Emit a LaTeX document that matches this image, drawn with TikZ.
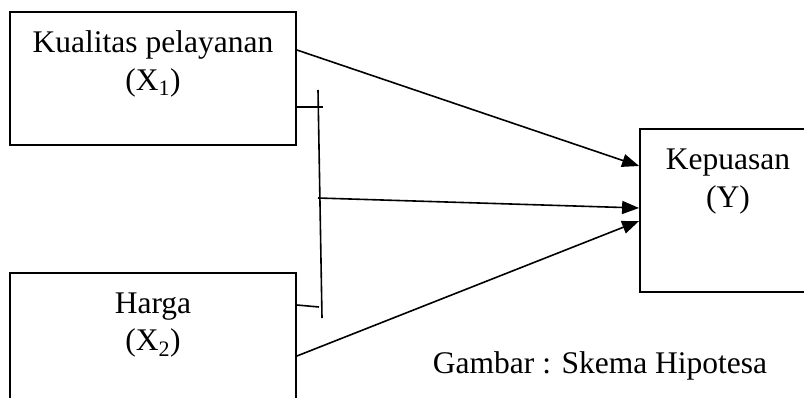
\documentclass[tikz,border=0pt]{standalone}
\usepackage{fontspec}
\setmainfont{Liberation Serif}
\usetikzlibrary{arrows.meta}
\begin{document}
\begin{tikzpicture}[x=1pt,y=-1pt,
  box/.style={draw, line width=1.8pt, rectangle, inner sep=0pt},
  lbl/.style={anchor=base, inner sep=0pt, font=\fontsize{31.5}{36}\selectfont},
  conn/.style={line width=1.6pt},
  arr/.style={conn, -{Triangle[length=17pt,width=13pt]}}]
\useasboundingbox (0,0) rectangle (804,397);
\clip (0,0) rectangle (804,397);
% boxes
\node[box, minimum width=286pt, minimum height=133pt] (x1) at (153,78.5) {};
\node[box, minimum width=286pt, minimum height=150pt] (x2) at (153,348) {};
\node[box, minimum width=180pt, minimum height=163pt] (y) at (730,210.5) {};
% texts
\node[lbl] (t1a) at (153,52) {Kualitas pelayanan};
\node[lbl] (t1b) at (153,90) {(X\textsubscript{1})};
\node[lbl] (t2a) at (153,313) {Harga};
\node[lbl] (t2b) at (153,350) {(X\textsubscript{2})};
\node[lbl] (tya) at (728,169) {Kepuasan};
\node[lbl] (tyb) at (728,207) {(Y)};
\node[lbl] (cap) at (600,373) {Gambar : Skema Hipotesa};
% junction line
\coordinate (vt) at (318,90);
\coordinate (vb) at (322,318);
\coordinate (vm) at (318,198);
\coordinate (k1) at (323,107);
\coordinate (k2) at (319,307);
\draw[conn] (vt) -- (vb);
\draw[conn] (x1.east |- k1) -- (k1);
\draw[conn] (x2.east |- 0,305) -- (k2);
% arrows
\draw[arr] (x1.east |- 0,50) -- (y.west |- 0,166);
\draw[arr] (vm) -- (y.west |- 0,208);
\draw[arr] (x2.east |- 0,356) -- (y.west |- 0,221);
\end{tikzpicture}
\end{document}
